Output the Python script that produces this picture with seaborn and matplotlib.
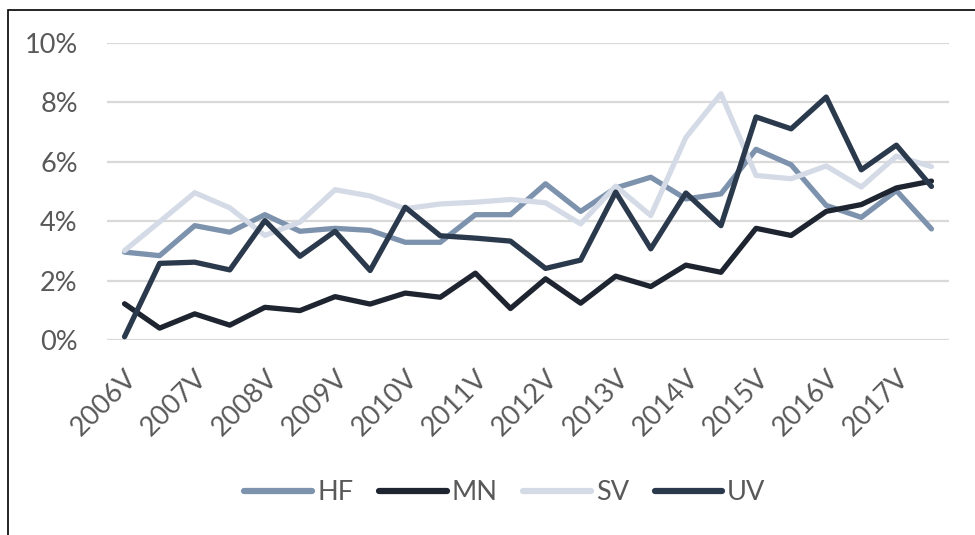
import pandas as pd
import matplotlib.pyplot as plt
from matplotlib.patches import Rectangle
import seaborn as sns

# half-year periods, V = spring, H = autumn
periods = [f"{y}{h}" for y in range(2006, 2018) for h in ("V", "H")]

hf = [2.96, 2.84, 3.85, 3.63, 4.22, 3.66, 3.76, 3.69, 3.29, 3.29, 4.22, 4.22,
      5.26, 4.33, 5.12, 5.48, 4.75, 4.92, 6.42, 5.90, 4.53, 4.13, 5.03, 3.74]
mn = [1.22, 0.40, 0.88, 0.50, 1.10, 0.99, 1.46, 1.21, 1.58, 1.44, 2.25, 1.06,
      2.06, 1.24, 2.15, 1.80, 2.52, 2.28, 3.76, 3.52, 4.33, 4.56, 5.12, 5.35]
sv = [3.01, 3.98, 4.96, 4.45, 3.52, 3.97, 5.06, 4.85, 4.42, 4.58, 4.64, 4.73,
      4.62, 3.91, 5.18, 4.19, 6.82, 8.29, 5.54, 5.43, 5.86, 5.15, 6.19, 5.84]
uv = [0.11, 2.58, 2.62, 2.36, 4.02, 2.82, 3.66, 2.34, 4.47, 3.51, 3.43, 3.33,
      2.41, 2.69, 4.98, 3.07, 4.95, 3.85, 7.51, 7.11, 8.18, 5.73, 6.56, 5.17]

series = {"HF": hf, "MN": mn, "SV": sv, "UV": uv}
colors = {"HF": "#7d92ad", "MN": "#1e2530", "SV": "#d4dbe6", "UV": "#2b394c"}

df = pd.concat(
    [pd.DataFrame({"period": periods, "value": v, "serie": k}) for k, v in series.items()],
    ignore_index=True,
)

sns.set_style("white")
plt.rcParams["font.family"] = ["Lato", "DejaVu Sans"]

fig = plt.figure(figsize=(9.75, 5.35), dpi=100)
ax = fig.add_axes([107 / 975, 195 / 535, 842 / 975, 297 / 535])

sns.lineplot(data=df, x="period", y="value", hue="serie", palette=colors,
             linewidth=3.8, sort=False, ax=ax)

ax.set_xlim(-0.5, len(periods) - 0.5)
ax.set_ylim(0, 10)
ax.set_yticks(range(0, 11, 2))
ax.set_yticklabels([f"{t}%" for t in range(0, 11, 2)])
ax.yaxis.grid(True, color="#d9d9d9", linewidth=1.6)
ax.set_axisbelow(True)

ticks = list(range(0, len(periods), 2))
ax.set_xticks(ticks)
ax.set_xticklabels([periods[i] for i in ticks], rotation=45, ha="right",
                   rotation_mode="anchor")
ax.tick_params(axis="x", length=0, pad=18, labelsize=19.5, labelcolor="#595959")
ax.tick_params(axis="y", length=0, pad=21, labelsize=19.5, labelcolor="#595959")
ax.set_xlabel("")
ax.set_ylabel("")
for s in ax.spines.values():
    s.set_visible(False)

handles, labels = ax.get_legend_handles_labels()
for h in handles:
    h.set_linewidth(4.5)
ax.legend(handles, labels, loc="center", bbox_to_anchor=(505 / 975, 42 / 535),
          bbox_transform=fig.transFigure, ncol=4, frameon=False, fontsize=19.5,
          handlelength=2.5, handletextpad=0.18, columnspacing=0.95,
          labelcolor="#595959")

# outer frame as in the source
fig.patches.append(Rectangle((8 / 975, -0.05), 1.0, 1.05 - 10 / 535,
                             transform=fig.transFigure, fill=False,
                             edgecolor="black", linewidth=1.2))

fig.savefig("out.png", dpi=100)
